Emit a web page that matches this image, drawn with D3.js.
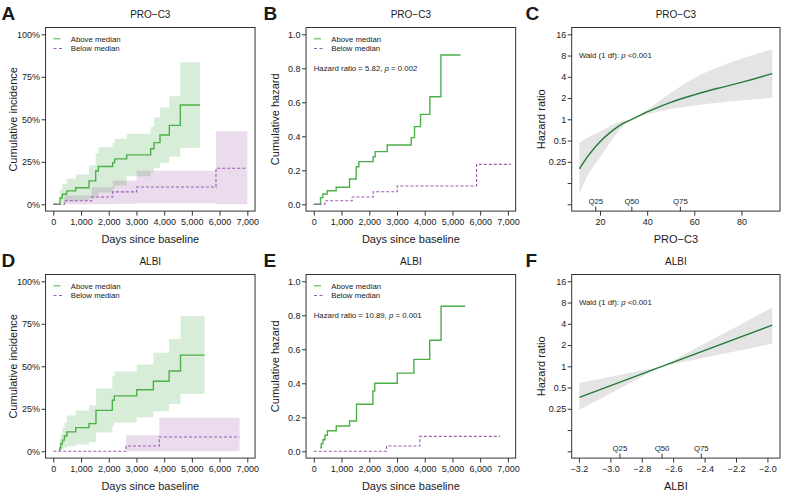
<!DOCTYPE html>
<html><head><meta charset="utf-8">
<script src="https://cdn.jsdelivr.net/npm/d3@7"></script>
<style>
body{margin:0;background:#fff}
svg{display:block}
text{font-family:"Liberation Sans",Arial,sans-serif;fill:#1a1a1a}
</style>
</head><body>
<svg id="chart" width="787" height="499"></svg>
<script>
// ---------------- DATA ----------------
// PRO-C3, above median (panels A & B)
const proAboveTimes = [242, 326, 482, 807, 1288, 1529, 1625, 2142, 2214, 2647, 3513, 3633, 3850, 4187, 4583];
const proAboveEnd = 5293;
const proAboveInc   = [0.037, 0.059, 0.079, 0.097, 0.138, 0.196, 0.222, 0.245, 0.267, 0.291, 0.327, 0.363, 0.408, 0.464, 0.584];
const proAboveIncLo = [0.004, 0.010, 0.016, 0.022, 0.035, 0.050, 0.070, 0.090, 0.110, 0.165, 0.190, 0.215, 0.245, 0.280, 0.333];
const proAboveIncHi = [0.085, 0.120, 0.150, 0.175, 0.230, 0.300, 0.335, 0.360, 0.385, 0.415, 0.455, 0.510, 0.570, 0.635, 0.835];
const proAboveHaz   = [0.039, 0.061, 0.080, 0.100, 0.149, 0.221, 0.251, 0.280, 0.310, 0.349, 0.392, 0.457, 0.529, 0.633, 0.878];
// PRO-C3, below median
const proBelowTimes = [398, 1384, 2142, 3008, 5870];
const proBelowEndA = 7000;
const proBelowEndB = 7100;
const proBelowInc   = [0.021, 0.043, 0.073, 0.102, 0.212];
const proBelowIncLo = [0.000, 0.000, 0.003, 0.006, 0.001];
const proBelowIncHi = [0.052, 0.100, 0.140, 0.198, 0.430];
const proBelowHaz   = [0.021, 0.043, 0.074, 0.108, 0.235];

// ALBI, above median (panels D & E)
const albiAboveTimes = [230, 270, 330, 400, 490, 810, 1290, 1540, 2130, 2200, 3010, 3610, 4180, 4590];
const albiAboveEnd = 5460;
const albiAboveInc   = [0.020, 0.044, 0.066, 0.090, 0.114, 0.139, 0.163, 0.241, 0.300, 0.326, 0.362, 0.412, 0.472, 0.566];
const albiAboveIncLo = [0.002, 0.008, 0.015, 0.022, 0.030, 0.040, 0.055, 0.110, 0.150, 0.170, 0.200, 0.235, 0.278, 0.337];
const albiAboveIncHi = [0.070, 0.100, 0.140, 0.170, 0.210, 0.240, 0.270, 0.370, 0.440, 0.470, 0.510, 0.580, 0.660, 0.795];
const albiAboveHaz   = [0.020, 0.045, 0.068, 0.094, 0.121, 0.149, 0.178, 0.277, 0.355, 0.400, 0.460, 0.541, 0.653, 0.853];
// ALBI, below median
const albiBelowTimes = [2623, 3825];
const albiBelowEnd = 6720;
const albiBelowInc   = [0.031, 0.084];
const albiBelowIncLo = [0.000, 0.000];
const albiBelowIncHi = [0.094, 0.198];
const albiBelowHaz   = [0.031, 0.088];

// Spline hazard ratio, PRO-C3 (panel C)
const procX  = [11.25, 15, 20, 25, 30, 33.5, 40, 50, 60, 70, 80, 93.1];
const procHR = [0.198, 0.305, 0.48, 0.68, 0.88, 1, 1.27, 1.74, 2.22, 2.75, 3.34, 4.44];
const procLo = [0.088, 0.165, 0.287, 0.51, 0.81, 1, 1.165, 1.395, 1.569, 1.717, 1.853, 2.0];
const procHi = [0.467, 0.555, 0.67, 0.83, 0.95, 1, 1.37, 2.36, 3.86, 5.46, 7.21, 9.85];
const procQuant = [18.2, 33.5, 54.1];

// Linear hazard ratio, ALBI (panel F)
const albiX  = [-3.197, -2.671, -1.969];
const albiHR = [0.364, 1, 3.83];
const albiLo = [0.243, 1, 2.09];
const albiHi = [0.58, 1, 6.8];
const albiQuant = [-2.939, -2.671, -2.421];

const quantLabels = ["Q25", "Q50", "Q75"];
const dayTicks = [0, 1000, 2000, 3000, 4000, 5000, 6000, 7000];
const incTicks = [0, 0.25, 0.5, 0.75, 1];
const hazTicks = [0, 0.2, 0.4, 0.6, 0.8, 1.0];
const hrTicks = [1/16, 1/8, 0.25, 0.5, 1, 2, 4, 8, 16];
const procTicks = [20, 40, 60, 80];
const albiTicks = [-3.2, -3.0, -2.8, -2.6, -2.4, -2.2, -2.0];
const legendLabels = ["Above median", "Below median"];

// ---------------- STYLE / LAYOUT ----------------
const GREEN = "#4daf4a", PURPLE = "#9b59b6", DKGREEN = "#237a3b";
const colX = [[53.3, 247.3], [313.8, 507.9], [579.4, 772.3]];
const rowY = [[204.3, 34.3], [451.3, 281.3]];
const letterX = [1.5, 263.5, 525.5];
const svg = d3.select("#chart");

function frame(o) {
  const g = svg.append("g");
  const x = o.x, y = o.y;
  const xb = o.xbox, yb = o.ybox;
  g.append("rect").attr("x", xb[0]).attr("y", yb[1])
    .attr("width", xb[1] - xb[0]).attr("height", yb[0] - yb[1])
    .attr("fill", "none").attr("stroke", "#333").attr("stroke-width", 1);
  const ax = g.append("g").attr("transform", `translate(0,${yb[0]})`)
    .call(d3.axisBottom(x).tickValues(o.xTicks).tickFormat(o.xFmt).tickSize(4.5).tickPadding(3.5));
  ax.select(".domain").remove();
  const ay = g.append("g").attr("transform", `translate(${xb[0]},0)`)
    .call(d3.axisLeft(y).tickValues(o.yTicks).tickFormat(o.yFmt).tickSize(4).tickPadding(1.5));
  ay.select(".domain").remove();
  g.selectAll(".tick line").attr("stroke", "#333");
  g.selectAll(".tick text").attr("font-size", 9).attr("fill", "#1a1a1a")
    .attr("font-family", '"Liberation Sans",Arial,sans-serif');
  const cx = (xb[0] + xb[1]) / 2, cy = (yb[0] + yb[1]) / 2;
  g.append("text").attr("x", cx).attr("y", yb[1] - 13).attr("dy", "0.35em")
    .attr("text-anchor", "middle").attr("font-size", 10).text(o.title);
  g.append("text").attr("x", letterX[o.col]).attr("y", yb[1] - 8)
    .attr("font-size", 19).attr("font-weight", "bold").attr("fill", "#000").text(o.letter);
  g.append("text").attr("x", cx).attr("y", yb[0] + 28.3).attr("dy", "0.35em")
    .attr("text-anchor", "middle").attr("font-size", 11).text(o.xTitle);
  g.append("text").attr("transform", `translate(${xb[0] - o.yTitleOff},${cy}) rotate(-90)`)
    .attr("dy", "0.35em").attr("text-anchor", "middle").attr("font-size", 11).text(o.yTitle);
  return g;
}

function dayScales(col, row) {
  const x = d3.scaleLinear().domain([0, 7000]).range(colX[col]);
  const xbox = [x(-280), x(7280)];
  return { x, xbox };
}

function stepPts(times, vals, end, start) {
  const p = [];
  if (start) p.push(start);
  times.forEach((t, i) => p.push([t, vals[i]]));
  p.push([end, vals[vals.length - 1]]);
  return p;
}
function bandPts(times, lo, hi, end) {
  const p = times.map((t, i) => [t, lo[i], hi[i]]);
  p.push([end, lo[lo.length - 1], hi[hi.length - 1]]);
  return p;
}

function legend(g, xb, yb) {
  const x0 = xb[0] + 8, y0 = yb[1] + 11.3, y1 = yb[1] + 21;
  g.append("line").attr("x1", x0).attr("x2", x0 + 7).attr("y1", y0).attr("y2", y0)
    .attr("stroke", GREEN).attr("stroke-width", 1.2).attr("stroke-opacity", 0.85);
  g.append("line").attr("x1", x0).attr("x2", x0 + 8.5).attr("y1", y1).attr("y2", y1)
    .attr("stroke", PURPLE).attr("stroke-width", 1).attr("stroke-dasharray", "3,2.5");
  g.append("text").attr("x", xb[0] + 25.2).attr("y", y0).attr("dy", "0.35em").attr("font-size", 7.8).text(legendLabels[0]);
  g.append("text").attr("x", xb[0] + 25.2).attr("y", y1).attr("dy", "0.35em").attr("font-size", 7.8).text(legendLabels[1]);
}

function kmPanel(o) {
  const { x, xbox } = dayScales(o.col, o.row);
  const y = d3.scaleLinear().domain([0, 1]).range(rowY[o.row]);
  const ybox = [y(-0.04), y(1.04)];
  const clipId = "clip" + o.letter;
  svg.append("clipPath").attr("id", clipId).append("rect")
    .attr("x", xbox[0]).attr("y", ybox[1]).attr("width", xbox[1] - xbox[0]).attr("height", ybox[0] - ybox[1]);
  const plot = svg.append("g").attr("clip-path", `url(#${clipId})`);
  const area = d3.area().curve(d3.curveStepAfter).x(d => x(d[0])).y0(d => y(d[1])).y1(d => y(d[2]));
  const line = d3.line().curve(d3.curveStepAfter).x(d => x(d[0])).y(d => y(d[1]));
  if (o.bandA) plot.append("path").attr("d", area(o.bandA)).attr("fill", GREEN).attr("fill-opacity", 0.22);
  if (o.bandB) plot.append("path").attr("d", area(o.bandB)).attr("fill", "#984ea3").attr("fill-opacity", 0.2);
  plot.append("path").attr("d", line(o.lineA)).attr("fill", "none").attr("stroke", GREEN).attr("stroke-width", 1.4);
  plot.append("path").attr("d", line(o.lineB)).attr("fill", "none").attr("stroke", PURPLE)
    .attr("stroke-width", 1.1).attr("stroke-dasharray", "3,2");
  const g = frame({ col: o.col, x, y, xbox, ybox, xTicks: dayTicks, xFmt: d3.format(","),
    yTicks: o.yTicks, yFmt: o.yFmt, title: o.title, letter: o.letter,
    xTitle: "Days since baseline", yTitle: o.yTitle, yTitleOff: o.col === 0 ? 32.2 : 30.7 });
  legend(g, xbox, ybox);
  if (o.note) {
    g.append("text").attr("x", xbox[0] + 7.7).attr("y", ybox[1] + 40.5).attr("dy", "0.35em")
      .attr("font-size", 7.8).html(o.note);
  }
}

function hrPanel(o) {
  const x = d3.scaleLinear().domain([o.xs[0], o.xs[o.xs.length - 1]]).range(colX[2]);
  const dx = (o.xs[o.xs.length - 1] - o.xs[0]) * 0.04;
  const xbox = [x(o.xs[0] - dx), x(o.xs[o.xs.length - 1] + dx)];
  const y = d3.scaleLog().base(2).domain([1 / 16, 16]).range(rowY[o.row]);
  const ybox = [y(Math.pow(2, -4.32)), y(Math.pow(2, 4.32))];
  const curve = o.curve;
  const pts = o.xs.map((v, i) => ({ x: v, hr: o.hr[i], lo: o.lo[i], hi: o.hi[i] }));
  svg.append("path").attr("d", d3.area().curve(curve).x(d => x(d.x)).y0(d => y(d.lo)).y1(d => y(d.hi))(pts))
    .attr("fill", "#e4e4e4");
  svg.append("path").attr("d", d3.line().curve(curve).x(d => x(d.x)).y(d => y(d.hr))(pts))
    .attr("fill", "none").attr("stroke", DKGREEN).attr("stroke-width", 1.4);
  const g = frame({ col: 2, x, y, xbox, ybox, xTicks: o.xTicks, xFmt: o.xFmt,
    yTicks: hrTicks, yFmt: d => d >= 0.25 ? d3.format("~g")(d) : "",
    title: o.title, letter: o.letter, xTitle: o.xTitle, yTitle: "Hazard ratio", yTitleOff: 30.4 });
  o.quant.forEach((q, i) => {
    g.append("line").attr("x1", x(q)).attr("x2", x(q)).attr("y1", ybox[0]).attr("y2", ybox[0] - 4.5)
      .attr("stroke", "#333");
    g.append("text").attr("x", x(q)).attr("y", ybox[0] - 9.5).attr("dy", "0.35em")
      .attr("text-anchor", "middle").attr("font-size", 7.8).text(quantLabels[i]);
  });
  g.append("text").attr("x", xbox[0] + 7.3).attr("y", ybox[1] + 27.5).attr("dy", "0.35em")
    .attr("font-size", 7.8).html('Wald (1 df): <tspan font-style="italic">p</tspan> &lt;0.001');
}

const pctFmt = d => Math.round(d * 100) + "%";
const hazFmt = d3.format(".1f");

// A
kmPanel({ col: 0, row: 0, letter: "A", title: "PRO\u2212C3", yTitle: "Cumulative incidence",
  yTicks: incTicks, yFmt: pctFmt,
  bandA: bandPts(proAboveTimes, proAboveIncLo, proAboveIncHi, proAboveEnd),
  bandB: bandPts(proBelowTimes, proBelowIncLo, proBelowIncHi, proBelowEndA),
  lineA: stepPts(proAboveTimes, proAboveInc, proAboveEnd, [0, 0]),
  lineB: stepPts(proBelowTimes, proBelowInc, proBelowEndA, [0, 0]) });
// B
kmPanel({ col: 1, row: 0, letter: "B", title: "PRO\u2212C3", yTitle: "Cumulative hazard",
  yTicks: hazTicks, yFmt: hazFmt,
  lineA: stepPts(proAboveTimes, proAboveHaz, proAboveEnd, [0, 0]),
  lineB: stepPts(proBelowTimes, proBelowHaz, proBelowEndB, [0, 0]),
  note: 'Hazard ratio = 5.82, <tspan font-style="italic">p</tspan> = 0.002' });
// C
hrPanel({ row: 0, letter: "C", title: "PRO\u2212C3", xTitle: "PRO\u2212C3",
  xs: procX, hr: procHR, lo: procLo, hi: procHi, quant: procQuant,
  xTicks: procTicks, xFmt: d3.format("d"), curve: d3.curveMonotoneX });
// D
kmPanel({ col: 0, row: 1, letter: "D", title: "ALBI", yTitle: "Cumulative incidence",
  yTicks: incTicks, yFmt: pctFmt,
  bandA: bandPts(albiAboveTimes, albiAboveIncLo, albiAboveIncHi, albiAboveEnd),
  bandB: bandPts(albiBelowTimes, albiBelowIncLo, albiBelowIncHi, albiBelowEnd),
  lineA: stepPts(albiAboveTimes, albiAboveInc, albiAboveEnd, [albiAboveTimes[0], 0]),
  lineB: stepPts(albiBelowTimes, albiBelowInc, albiBelowEnd, [0, 0]) });
// E
kmPanel({ col: 1, row: 1, letter: "E", title: "ALBI", yTitle: "Cumulative hazard",
  yTicks: hazTicks, yFmt: hazFmt,
  lineA: stepPts(albiAboveTimes, albiAboveHaz, albiAboveEnd),
  lineB: stepPts(albiBelowTimes, albiBelowHaz, albiBelowEnd, [0, 0]),
  note: 'Hazard ratio = 10.89, <tspan font-style="italic">p</tspan> = 0.001' });
// F
hrPanel({ row: 1, letter: "F", title: "ALBI", xTitle: "ALBI",
  xs: albiX, hr: albiHR, lo: albiLo, hi: albiHi, quant: albiQuant,
  xTicks: albiTicks, xFmt: d3.format(".1f"), curve: d3.curveLinear });
</script>
</body></html>
